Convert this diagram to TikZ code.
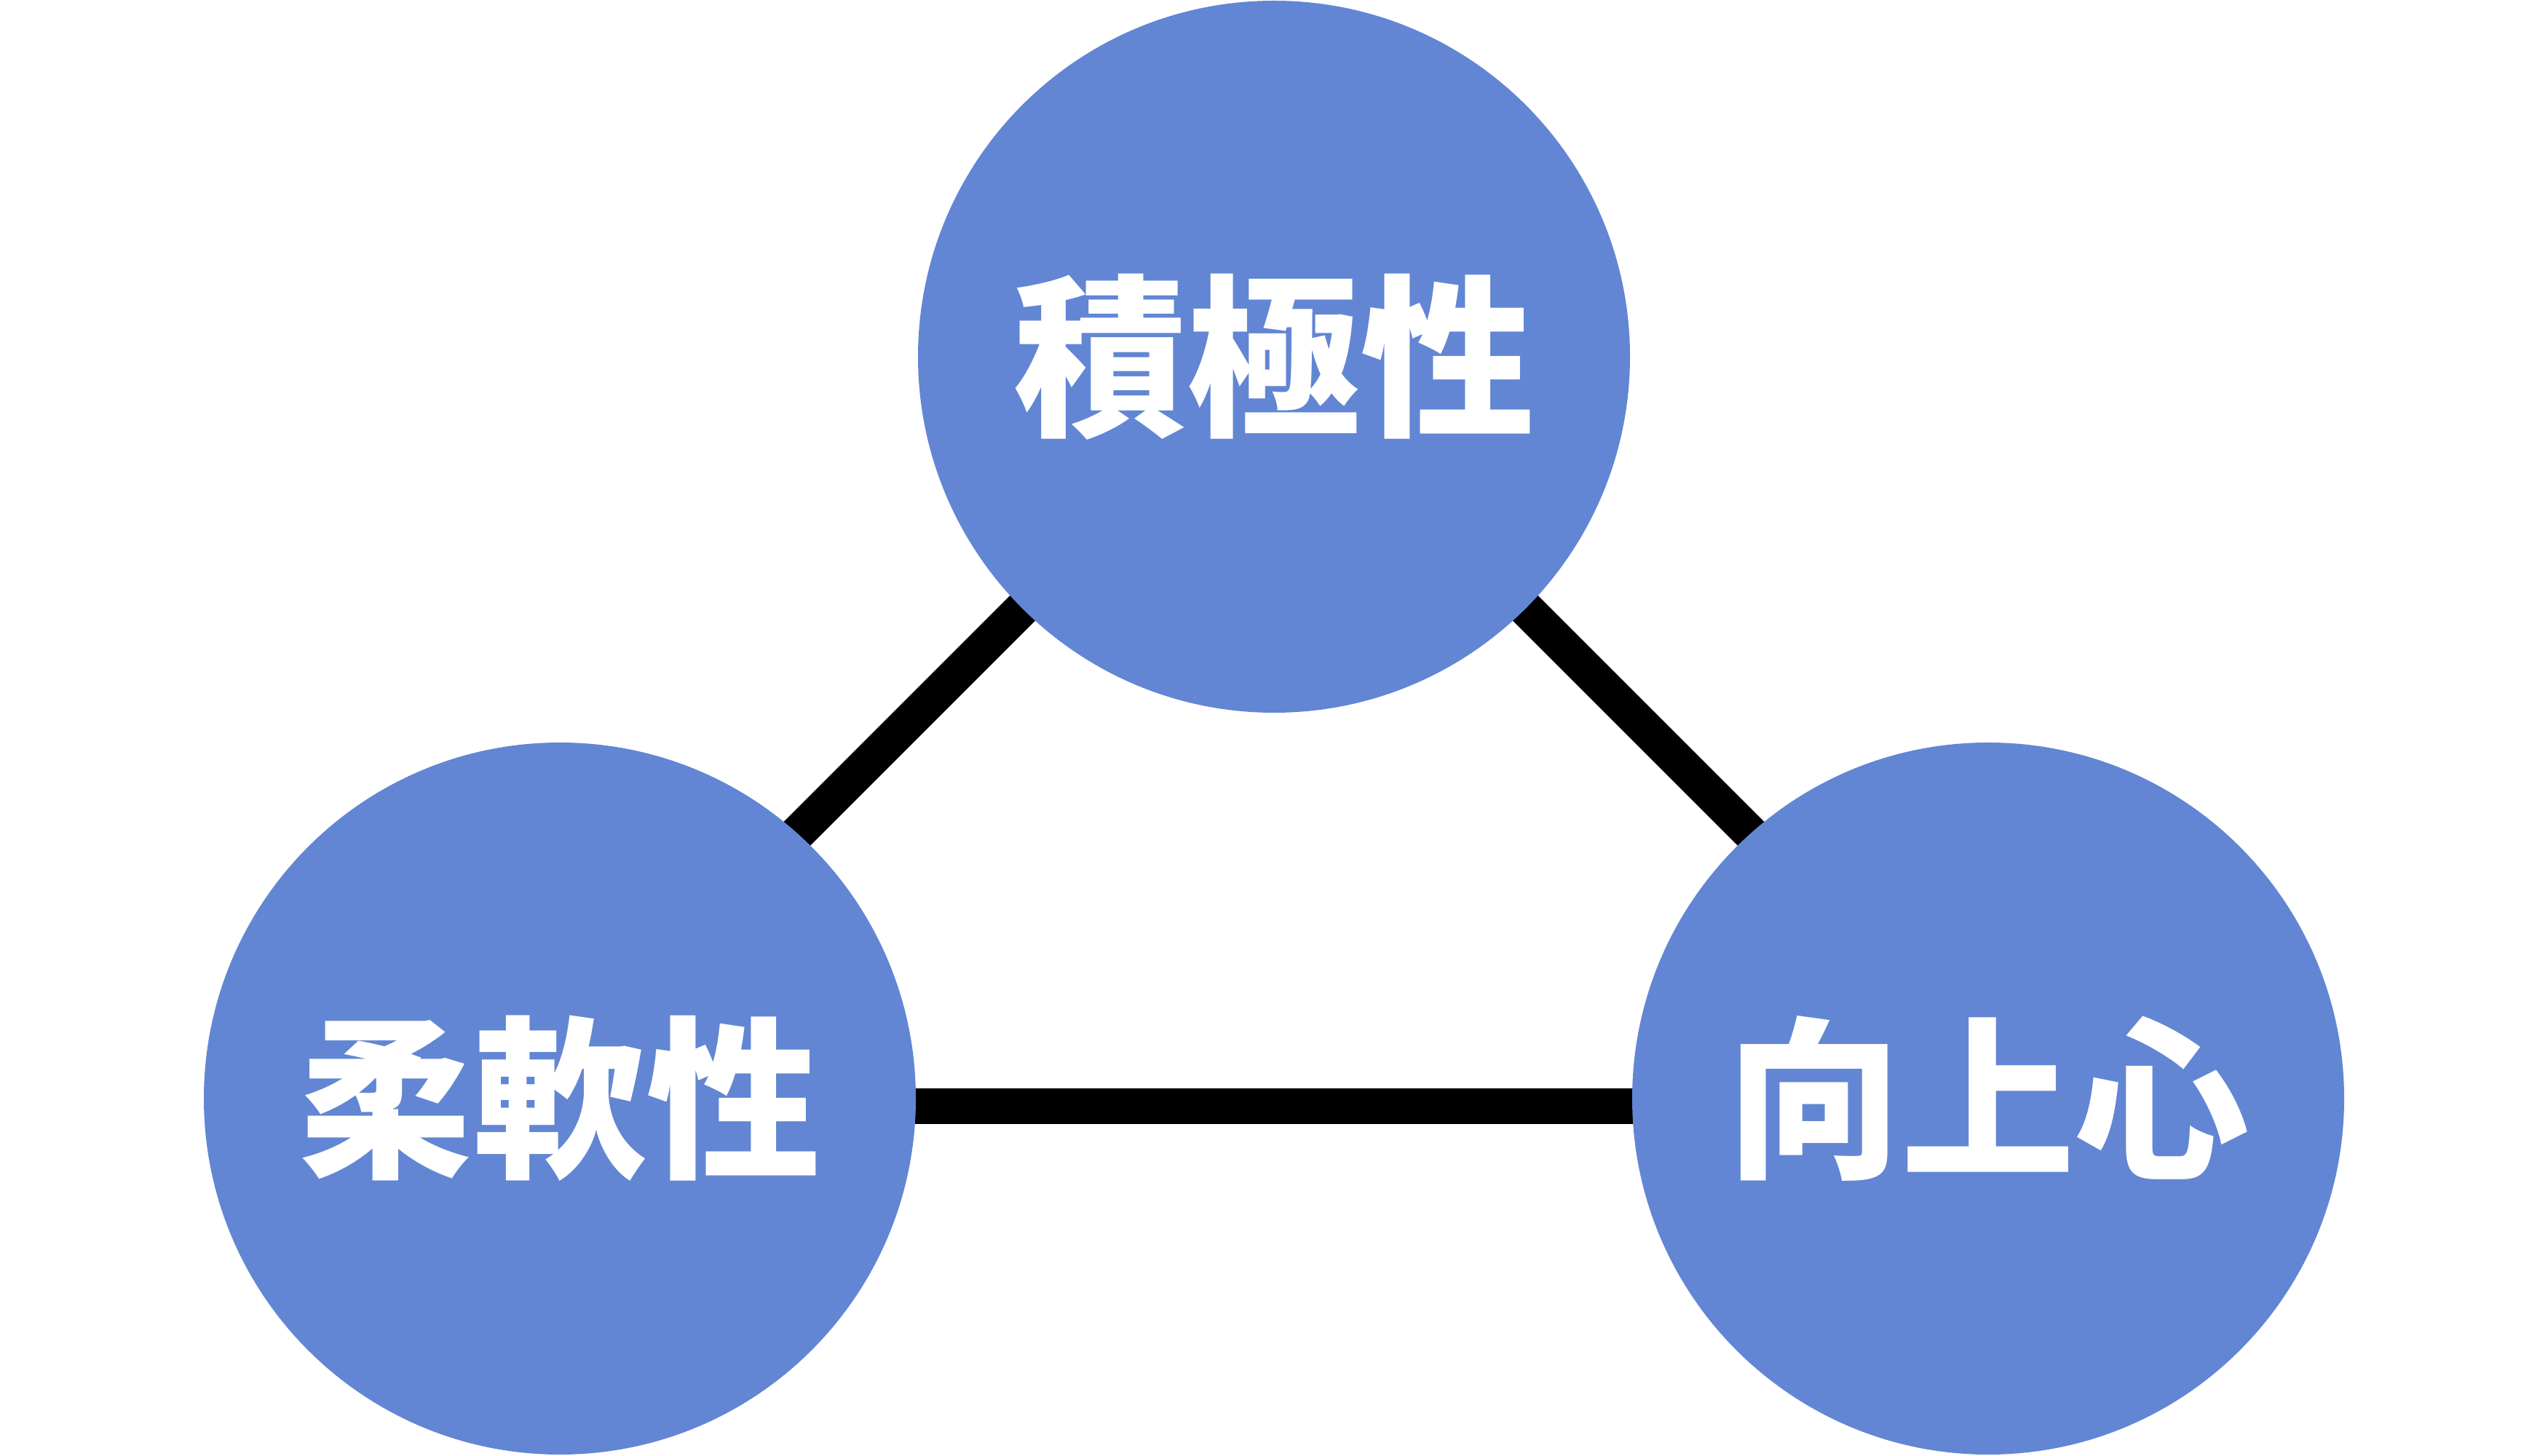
\documentclass[tikz,border=0pt]{standalone}
\usepackage{fontspec}
\newfontfamily\jp{Noto Sans CJK JP}
\usetikzlibrary{backgrounds}
\definecolor{ballblue}{RGB}{98,134,212}
\begin{document}
\begin{tikzpicture}
      \tikzstyle{every node}=[circle]
      \tikzstyle{ball}=[fill=ballblue, minimum size=9.78cm, inner sep=0pt, text=white, font=\jp\bfseries\fontsize{68}{68}\selectfont]
      \tikzstyle{link}=[line width=0.49cm]
      \node[ball] (top) at (17.5,15.1) {積極性};
      \node[ball] (left) at (7.69,4.91) {柔軟性};
      \node[ball] (right) at (27.31,4.91) {向上心};
      \coordinate (lend) at (7.5,5.1);
      \coordinate (rend) at (27.5,5.1);

      \begin{pgfonlayer}{background}
      \fill[white] (0,0) rectangle (35,20);
      \draw[link] (top.center) -- (lend);
      \draw[link] (top.center) -- (rend);
      \draw[link] (left.center) ++(0,-0.11) coordinate (lbase) -- (lbase -| right.center);
      \end{pgfonlayer}
    \end{tikzpicture}
\end{document}
